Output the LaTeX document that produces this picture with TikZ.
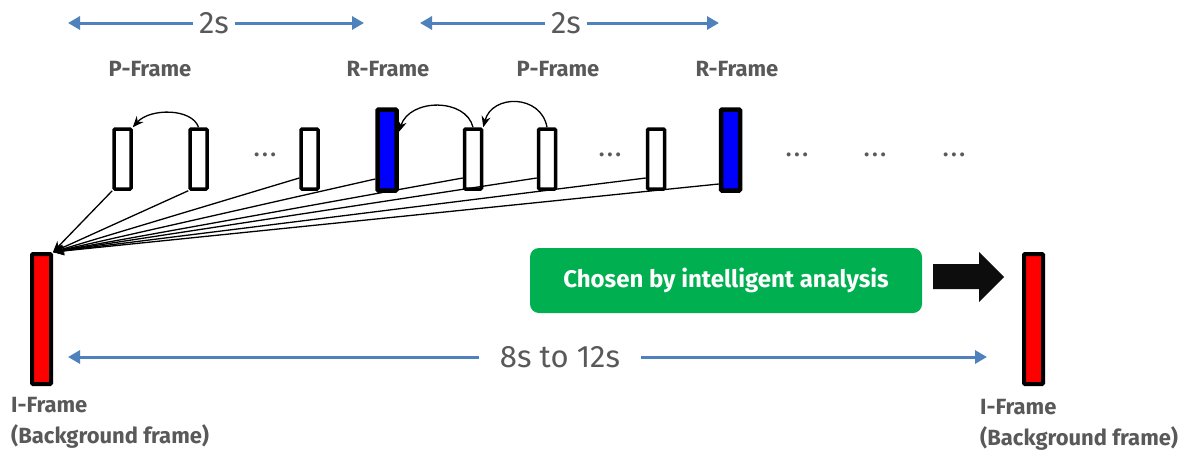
\documentclass[tikz,border=0pt]{standalone}
\usepackage{fontspec}
\setmainfont{Fira Sans}
\usetikzlibrary{arrows.meta}
\definecolor{labelgray}{HTML}{595959}
\definecolor{spanblue}{HTML}{4F81BD}
\definecolor{pickgreen}{HTML}{00B050}

\begin{document}
\begin{tikzpicture}[x=1pt,y=-1pt,-]
    \tikzstyle{pframe}=[draw=black,fill=white,line width=3.5pt,minimum width=17pt,minimum height=60pt,rounded corners=1pt,inner sep=0pt]
    \tikzstyle{rframe}=[pframe,fill=blue,line width=4.5pt,minimum width=19pt,minimum height=81pt]
    \tikzstyle{iframe}=[pframe,fill=red,line width=4pt,minimum width=19pt,minimum height=130pt]
    \tikzstyle{lbl}=[text=labelgray,font=\bfseries\fontsize{22}{26}\selectfont,inner sep=0pt]
    \tikzstyle{dots}=[text=labelgray,font=\bfseries\fontsize{22}{26}\selectfont,inner sep=0pt]
    \tikzstyle{spantext}=[text=labelgray,font=\fontsize{31}{36}\selectfont,inner sep=0pt]
    \tikzstyle{span}=[draw=spanblue,line width=3pt,-{Triangle[length=12pt,width=13pt]}]
    \tikzstyle{ref}=[line width=1.3pt,-{Stealth[length=11pt,width=9pt]}]
    \tikzstyle{pick}=[fill=pickgreen,rounded corners=9pt,minimum width=392pt,minimum height=65pt,text=white,font=\bfseries\fontsize{24}{28}\selectfont]

    \useasboundingbox (0,0) rectangle (1204,450);

    \foreach \num/\x in {1/122.5, 2/198.5, 3/309.5, 4/473, 5/547, 6/656}
            \node[pframe] (P-\num) at (\x,159) {};
    \foreach \num/\x in {1/387, 2/730.5}
            \node[rframe] (R-\num) at (\x,150) {};
    \foreach \num/\x in {1/41.5, 2/1033.5}
            \node[iframe] (I-\num) at (\x,319) {};
    \foreach \num/\x in {1/265, 2/610, 3/797, 4/875, 5/954}
            \node[dots] (D-\num) at (\x,155) {.\hspace{3pt}.\hspace{3pt}.};

    % frame names
    \foreach \num/\x/\txt in {1/150/P-Frame, 2/388/R-Frame, 3/558/P-Frame, 4/737/R-Frame}
            \node[lbl] (N-\num) at (\x,69) {\txt};
    \node[lbl,anchor=west] (N-5) at (11,405) {I-Frame};
    \node[lbl,anchor=west] (N-6) at (11,436) {(Background frame)};
    \node[lbl,anchor=west] (N-7) at (980,407) {I-Frame};
    \node[lbl,anchor=west] (N-8) at (980,438) {(Background frame)};

    % time spans
    \foreach \num/\a/\m/\b/\y/\w/\txt in {1/68/214/364/23/41/2s, 2/420/566/719/23/41/2s, 3/68/560/987/357/161/8s to 12s} {
            \coordinate (S-\num-l) at (\a,\y);
            \coordinate (S-\num-r) at (\b,\y);
            \node[spantext,minimum width=\w pt] (S-\num) at (\m,\y) {\txt};
            \draw[span] (S-\num) -- (S-\num-l);
            \draw[span] (S-\num) -- (S-\num-r);
    }

    % references to the background frame
    \foreach \from in {1,2}
            \draw[ref] (P-\from.south west) -- (I-1.north east);
    \foreach \from in {3,4,5,6}
            \draw[ref] ([yshift=-19pt]P-\from.west) -- (I-1.north east);
    \draw[ref] ([yshift=-29pt]R-1.west) -- (I-1.north east);
    \draw[ref] ([yshift=-34pt]R-2.west) -- (I-1.north east);

    \draw[ref] (P-2.north) .. controls (192,108) and (150,108) .. (P-1.north east);
    \draw[ref] (P-4.north) .. controls (466,98) and (410,98) .. ([yshift=18pt]R-1.east);
    \draw[ref] (P-5.north) .. controls (541,94) and (492,94) .. (P-4.north east);

    \node[pick] (pick) at (726,280.5) {Chosen by intelligent analysis};
    \fill[black!95] (933,264) -- (979,264) -- (979,252) -- (1004,277) -- (979,302) -- (979,289) -- (933,289) -- cycle;
\end{tikzpicture}
\end{document}
